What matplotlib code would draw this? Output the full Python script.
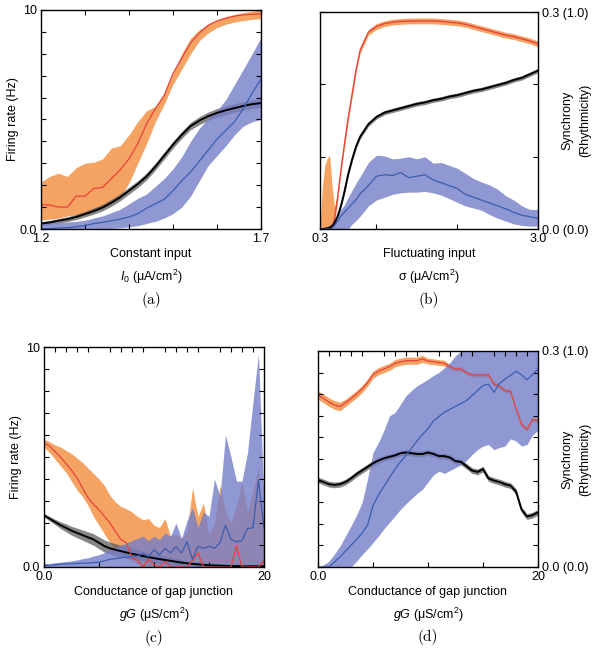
import numpy as np
import matplotlib
matplotlib.use("Agg")
import matplotlib.pyplot as plt
from matplotlib.ticker import MultipleLocator

plt.rcParams["font.family"] = ["Liberation Sans", "DejaVu Sans"]
plt.rcParams["mathtext.fontset"] = "custom"
plt.rcParams["mathtext.rm"] = "Liberation Sans"
plt.rcParams["mathtext.it"] = "Liberation Sans:italic"

# ---- panel (a): constant input ----
xa = np.round(np.arange(1.20, 1.701, 0.02), 2)
red_a = [1.1, 1.1, 1.0, 1.0, 1.5, 1.5, 1.85, 1.9, 2.3, 2.7, 3.2, 3.9, 4.8,
         5.5, 6.1, 7.1, 7.8, 8.5, 8.95, 9.3, 9.5, 9.62, 9.72, 9.78, 9.8, 9.82]
red_a_hi = [2.15, 2.4, 2.55, 2.4, 2.8, 3.0, 3.05, 3.2, 3.7, 3.8, 4.3, 4.9, 5.4,
            5.6, 6.2, 7.1, 8.0, 8.7, 9.1, 9.35, 9.55, 9.7, 9.8, 9.88, 9.95, 10.0]
red_a_lo = [0.4, 0.45, 0.5, 0.6, 0.65, 0.7, 0.8, 1.0, 1.2, 1.45, 2.1, 3.0, 3.9,
            4.9, 5.7, 6.6, 7.3, 8.0, 8.6, 8.95, 9.2, 9.35, 9.45, 9.52, 9.57, 9.6]
black_a = [0.25, 0.3, 0.38, 0.45, 0.55, 0.68, 0.82, 0.98, 1.2, 1.45, 1.75, 2.05,
           2.4, 2.85, 3.35, 3.85, 4.3, 4.7, 4.95, 5.15, 5.3, 5.42, 5.52, 5.62,
           5.7, 5.75]
black_a_err = [0.08, 0.09, 0.1, 0.11, 0.12, 0.13, 0.14, 0.15, 0.16, 0.16, 0.16,
               0.16, 0.16, 0.16, 0.16, 0.16, 0.16, 0.17, 0.18, 0.19, 0.2, 0.2,
               0.2, 0.2, 0.2, 0.2]
blue_a = [0.0, 0.02, 0.04, 0.06, 0.1, 0.15, 0.25, 0.3, 0.38, 0.45, 0.55, 0.7,
          0.95, 1.15, 1.35, 1.75, 2.2, 2.6, 3.1, 3.6, 4.1, 4.5, 4.9, 5.5, 6.2, 6.85]
blue_a_hi = [0.25, 0.27, 0.3, 0.32, 0.35, 0.4, 0.5, 0.6, 0.75, 0.9, 1.15, 1.4,
             1.6, 1.95, 2.3, 2.75, 3.3, 4.0, 4.6, 5.05, 5.4, 5.9, 6.6, 7.3, 8.0, 8.75]
blue_a_lo = [0, 0, 0, 0, 0, 0, 0, 0, 0.03, 0.06, 0.1, 0.15, 0.25, 0.35, 0.5,
             0.7, 1.0, 1.5, 2.2, 2.9, 3.35, 3.8, 4.3, 4.7, 4.9, 5.0]

# ---- panel (b): fluctuating input ----
xb = [0.3, 0.33, 0.36, 0.39, 0.42, 0.45, 0.48, 0.52, 0.56, 0.6, 0.65, 0.7,
      0.75, 0.8, 0.9, 1.0, 1.1, 1.2, 1.3, 1.4, 1.5, 1.6, 1.7, 1.8, 1.9, 2.0,
      2.1, 2.2, 2.3, 2.4, 2.5, 2.6, 2.7, 2.8, 2.9, 3.0]
red_b = [0, 0, 0, 0, 0, 0.002, 0.014, 0.045, 0.082, 0.115, 0.154, 0.188,
         0.222, 0.248, 0.272, 0.28, 0.284, 0.286, 0.287, 0.2875, 0.2877, 0.2877,
         0.2876, 0.287, 0.286, 0.285, 0.283, 0.28, 0.277, 0.274, 0.271, 0.268,
         0.266, 0.263, 0.26, 0.256]
red_b_hi = [0.0, 0.06, 0.088, 0.098, 0.102, 0.06, 0.03, 0.05, 0.087, 0.12,
            0.159, 0.193, 0.226, 0.252, 0.276, 0.284, 0.288, 0.29, 0.291, 0.2915,
            0.2917, 0.2917, 0.2916, 0.291, 0.29, 0.289, 0.287, 0.284, 0.281,
            0.278, 0.275, 0.272, 0.27, 0.267, 0.264, 0.26]
red_b_lo = [0, 0, 0, 0, 0, 0, 0.008, 0.04, 0.077, 0.11, 0.149, 0.183, 0.218,
            0.244, 0.268, 0.276, 0.28, 0.282, 0.283, 0.2835, 0.2837, 0.2837,
            0.2836, 0.283, 0.282, 0.281, 0.279, 0.276, 0.273, 0.27, 0.267,
            0.264, 0.262, 0.259, 0.256, 0.252]
black_b = [0, 0, 0.0005, 0.001, 0.002, 0.004, 0.008, 0.018, 0.032, 0.05, 0.076,
           0.097, 0.115, 0.128, 0.145, 0.155, 0.161, 0.164, 0.167, 0.17, 0.173,
           0.175, 0.178, 0.18, 0.183, 0.185, 0.188, 0.191, 0.193, 0.196, 0.199,
           0.202, 0.206, 0.209, 0.214, 0.219]
black_b_err = [0.001, 0.001, 0.001, 0.001, 0.001, 0.002, 0.002, 0.003, 0.003,
               0.003, 0.003, 0.003, 0.003, 0.003, 0.003, 0.003, 0.003, 0.003,
               0.003, 0.003, 0.003, 0.003, 0.003, 0.003, 0.003, 0.003, 0.003,
               0.003, 0.003, 0.003, 0.003, 0.003, 0.003, 0.003, 0.003, 0.003]
blue_b = [0, 0, 0, 0, 0, 0.001, 0.005, 0.011, 0.018, 0.023, 0.029, 0.035,
          0.041, 0.049, 0.06, 0.073, 0.075, 0.074, 0.078, 0.071, 0.073, 0.075,
          0.068, 0.064, 0.06, 0.056, 0.048, 0.044, 0.04, 0.036, 0.032, 0.028,
          0.023, 0.019, 0.017, 0.015]
blue_b_hi = [0, 0, 0, 0.002, 0.005, 0.009, 0.014, 0.02, 0.027, 0.033, 0.044,
             0.054, 0.064, 0.073, 0.092, 0.102, 0.101, 0.097, 0.098, 0.1, 0.097,
             0.1, 0.091, 0.092, 0.088, 0.084, 0.077, 0.07, 0.065, 0.061, 0.055,
             0.046, 0.04, 0.032, 0.027, 0.027]
blue_b_lo = [0, 0, 0, 0, 0, 0, 0, 0, 0, 0, 0, 0.007, 0.012, 0.018, 0.032, 0.04,
             0.044, 0.048, 0.05, 0.051, 0.051, 0.052, 0.05, 0.047, 0.042, 0.037,
             0.032, 0.029, 0.026, 0.02, 0.015, 0.011, 0.007, 0.005, 0.004, 0.004]

# ---- panels (c), (d): gap junction conductance ----
xg = np.arange(0, 20.5, 0.5)
red_c = [5.65, 5.5, 5.25, 5.0, 4.7, 4.4, 4.05, 3.6, 3.15, 2.85, 2.6, 2.3, 2.0,
         1.6, 1.25, 1.1, 0.45, 0.3, 0.0, 0.35, 0.1, 0.0, 0.25, 0.0, 0.0, 0.0,
         0.0, 0.3, 0.65, 0.0, 0.0, 0.0, 0.0, 0.0, 0.0, 0.95, 0.0, 0.0, 0.0, 0.0, 0.3]
red_c_hi = [5.8, 5.7, 5.55, 5.45, 5.3, 5.15, 4.95, 4.75, 4.5, 4.25, 4.0, 3.7,
            3.25, 2.95, 2.75, 2.65, 2.5, 2.3, 2.15, 2.2, 1.9, 1.8, 2.2, 1.4, 1.5,
            1.3, 1.6, 3.6, 2.3, 2.9, 1.5, 2.0, 3.7, 2.5, 2.0, 2.8, 3.9, 2.5, 3.5,
            4.5, 1.5]
red_c_lo = [5.45, 5.2, 4.9, 4.6, 4.3, 3.9, 3.5, 3.2, 2.8, 2.3, 1.9, 1.5, 1.1,
            0.8, 0.6, 0.4, 0.25, 0.15, 0, 0, 0, 0, 0, 0, 0, 0, 0, 0, 0, 0, 0, 0,
            0, 0, 0, 0, 0, 0, 0, 0, 0]
black_c = [2.35, 2.2, 2.05, 1.9, 1.78, 1.65, 1.55, 1.45, 1.35, 1.25, 1.1, 0.95,
           0.85, 0.78, 0.72, 0.66, 0.6, 0.55, 0.5, 0.45, 0.4, 0.36, 0.32, 0.28,
           0.24, 0.2, 0.17, 0.14, 0.12, 0.1, 0.08, 0.07, 0.06, 0.05, 0.04, 0.04,
           0.03, 0.03, 0.03, 0.03, 0.03]
black_c_err = [0.08, 0.1, 0.12, 0.15, 0.18, 0.2, 0.22, 0.23, 0.25, 0.26, 0.27,
               0.28, 0.28, 0.28, 0.27, 0.26, 0.25, 0.24, 0.22, 0.2, 0.19, 0.18,
               0.17, 0.16, 0.15, 0.14, 0.13, 0.12, 0.12, 0.11, 0.11, 0.1, 0.1,
               0.1, 0.1, 0.1, 0.1, 0.1, 0.1, 0.1, 0.1]
blue_c = [0.08, 0.08, 0.1, 0.12, 0.14, 0.15, 0.16, 0.17, 0.18, 0.2, 0.22, 0.28,
          0.35, 0.38, 0.42, 0.45, 0.48, 0.5, 0.62, 0.48, 0.78, 0.55, 0.85, 0.64,
          0.92, 0.64, 1.15, 0.35, 0.94, 0.85, 0.94, 0.85, 1.1, 1.9, 1.25, 1.15,
          1.2, 1.75, 1.78, 3.95, 1.8]
blue_c_hi = [0.15, 0.15, 0.2, 0.22, 0.25, 0.28, 0.32, 0.38, 0.42, 0.5, 0.56,
             0.65, 0.8, 0.9, 1.0, 1.1, 1.2, 1.3, 1.4, 1.2, 1.4, 1.25, 1.55, 1.4,
             2.0, 1.3, 2.1, 2.7, 1.8, 2.5, 2.3, 4.0, 3.2, 6.0, 5.0, 3.9, 3.9, 5.2,
             7.5, 9.7, 3.0]
blue_c_lo = [0.0] * 41

red_d = [0.239, 0.234, 0.229, 0.225, 0.223, 0.228, 0.234, 0.24, 0.247, 0.256,
         0.267, 0.272, 0.275, 0.278, 0.283, 0.285, 0.2865, 0.2865, 0.2866,
         0.289, 0.286, 0.285, 0.284, 0.283, 0.278, 0.275, 0.275, 0.27, 0.2666,
         0.2666, 0.2666, 0.2666, 0.254, 0.251, 0.2447, 0.244, 0.22, 0.198,
         0.191, 0.205, 0.203]
red_d_err = [0.006, 0.006, 0.006, 0.006, 0.006, 0.005, 0.005, 0.005, 0.005,
             0.005, 0.005, 0.005, 0.005, 0.005, 0.005, 0.005, 0.005, 0.005,
             0.005, 0.005, 0.004, 0.004, 0.004, 0.004, 0.003, 0.003, 0.003,
             0.003, 0.003, 0.003, 0.003, 0.003, 0.003, 0.003, 0.003, 0.003,
             0.003, 0.003, 0.003, 0.003, 0.003]
black_d = [0.121, 0.118, 0.115, 0.114, 0.115, 0.118, 0.123, 0.129, 0.134, 0.139,
           0.144, 0.148, 0.151, 0.153, 0.155, 0.158, 0.159, 0.158, 0.157, 0.157,
           0.159, 0.157, 0.154, 0.154, 0.152, 0.147, 0.146, 0.14, 0.134, 0.132,
           0.136, 0.123, 0.12, 0.118, 0.115, 0.113, 0.105, 0.08, 0.07, 0.072, 0.076]
black_d_err = [0.004] * 41
blue_d = [0, 0, 0, 0.007, 0.014, 0.022, 0.03, 0.038, 0.047, 0.058, 0.085, 0.1,
          0.112, 0.124, 0.136, 0.146, 0.155, 0.165, 0.175, 0.184, 0.192, 0.203,
          0.209, 0.215, 0.219, 0.223, 0.227, 0.231, 0.238, 0.245, 0.252, 0.254,
          0.2425, 0.255, 0.261, 0.266, 0.272, 0.267, 0.26, 0.267, 0.275]
blue_d_hi = [0, 0.003, 0.008, 0.018, 0.029, 0.043, 0.057, 0.072, 0.089, 0.122,
             0.159, 0.173, 0.19, 0.21, 0.2146, 0.226, 0.238, 0.245, 0.2517,
             0.256, 0.261, 0.266, 0.2703, 0.277, 0.284, 0.2935, 0.3, 0.31, 0.31,
             0.31, 0.31, 0.31, 0.31, 0.31, 0.31, 0.31, 0.31, 0.31, 0.31, 0.31, 0.31]
blue_d_lo = [0, 0, 0, 0, 0, 0, 0, 0.008, 0.017, 0.025, 0.034, 0.043, 0.053,
             0.062, 0.071, 0.08, 0.088, 0.095, 0.102, 0.108, 0.118, 0.128, 0.133,
             0.13, 0.134, 0.138, 0.142, 0.148, 0.156, 0.163, 0.168, 0.17, 0.163,
             0.166, 0.168, 0.178, 0.175, 0.168, 0.17, 0.183, 0.19]

ORANGE = "#F28C3C"
RED = "#E8423A"
BLUE_FILL = "#757EC9"
BLUE = "#3A5DB0"
GRAY = "#555555"
FS = 9


def band(ax, x, lo, hi, color, alpha):
    ax.fill_between(x, lo, hi, color=color, alpha=alpha, lw=0)


def mean_err(y, e):
    y = np.asarray(y)
    e = np.asarray(e)
    return y - e, y + e


fig = plt.figure(figsize=(6.01, 6.53), dpi=100)
ax_a = fig.add_axes([0.0682, 0.6493, 0.366, 0.3354])
ax_b = fig.add_axes([0.5324, 0.6493, 0.3627, 0.3323])
ax_c = fig.add_axes([0.0732, 0.1317, 0.366, 0.3369])
ax_d = fig.add_axes([0.5291, 0.1317, 0.366, 0.3308])

# (a)
band(ax_a, xa, red_a_lo, red_a_hi, ORANGE, 0.8)
band(ax_a, xa, *mean_err(black_a, black_a_err), GRAY, 0.7)
ax_a.plot(xa, black_a, color="black", lw=1.4)
band(ax_a, xa, blue_a_lo, blue_a_hi, BLUE_FILL, 0.8)
ax_a.plot(xa, red_a, color=RED, lw=0.9)
ax_a.plot(xa, blue_a, color=BLUE, lw=0.9)

# (b)
band(ax_b, xb, red_b_lo, red_b_hi, ORANGE, 0.8)
band(ax_b, xb, *mean_err(black_b, black_b_err), GRAY, 0.7)
band(ax_b, xb, blue_b_lo, blue_b_hi, BLUE_FILL, 0.8)
ax_b.plot(xb, red_b, color=RED, lw=1.0)
ax_b.plot(xb, black_b, color="black", lw=1.4)
ax_b.plot(xb, blue_b, color=BLUE, lw=0.9)

# (c)
band(ax_c, xg, red_c_lo, red_c_hi, ORANGE, 0.8)
band(ax_c, xg, *mean_err(black_c, black_c_err), GRAY, 0.7)
ax_c.plot(xg, black_c, color="black", lw=1.4)
band(ax_c, xg, blue_c_lo, blue_c_hi, BLUE_FILL, 0.8)
ax_c.plot(xg, red_c, color=RED, lw=0.9)
ax_c.plot(xg, blue_c, color=BLUE, lw=0.9)

# (d)
band(ax_d, xg, *mean_err(red_d, red_d_err), ORANGE, 0.8)
band(ax_d, xg, *mean_err(black_d, black_d_err), GRAY, 0.7)
band(ax_d, xg, blue_d_lo, blue_d_hi, BLUE_FILL, 0.8)
ax_d.plot(xg, red_d, color=RED, lw=0.9)
ax_d.plot(xg, black_d, color="black", lw=1.4)
ax_d.plot(xg, blue_d, color=BLUE, lw=0.9)

for ax in (ax_a, ax_b, ax_c, ax_d):
    for s in ax.spines.values():
        s.set_linewidth(1.0)
    ax.tick_params(which="both", direction="in", length=3.5, width=0.8,
                   labelsize=FS, pad=3)

# axis limits and ticks
ax_a.set_xlim(1.2, 1.7)
ax_a.set_ylim(0, 10)
ax_a.set_xticks([1.2, 1.3, 1.4, 1.5, 1.6, 1.7], ["1.2", "", "", "", "", "1.7"])
ax_a.set_yticks(range(11), ["0.0"] + [""] * 9 + ["10"])
ax_a.tick_params(top=True, right=True)

ax_b.set_xlim(0.3, 3.0)
ax_b.set_ylim(0, 0.3)
ax_b.set_xticks([0.3, 1.0, 2.0, 3.0], ["0.3", "", "", "3.0"])
ax_b.set_yticks([0, 0.1, 0.2, 0.3], ["0.0 (0.0)", "", "", "0.3 (1.0)"])
ax_b.tick_params(left=True, right=True, labelleft=False, labelright=True)

ax_c.set_xlim(0, 20)
ax_c.set_ylim(0, 10)
ax_c.set_xticks([0, 5, 10, 15, 20], ["0.0", "", "", "", "20"])
ax_c.xaxis.set_minor_locator(MultipleLocator(1))
ax_c.set_yticks(range(11), ["0.0"] + [""] * 9 + ["10"])
ax_c.tick_params(right=True)
ax_c.tick_params(which="minor", top=True, bottom=False)

ax_d.set_xlim(0, 20)
ax_d.set_ylim(0, 0.3)
ax_d.set_xticks([0, 5, 10, 15, 20], ["0.0", "", "", "", "20"])
ax_d.xaxis.set_minor_locator(MultipleLocator(1))
ax_d.set_yticks(np.linspace(0, 0.3, 11), ["0.0 (0.0)"] + [""] * 9 + ["0.3 (1.0)"])
ax_d.tick_params(left=True, right=True, labelleft=False, labelright=True)
ax_d.tick_params(which="minor", top=True, bottom=False)

# labels
labels = [
    (ax_a, "Constant input", r"$I_0$ (μA/cm$^2$)", "(a)"),
    (ax_b, "Fluctuating input", r"σ (μA/cm$^2$)", "(b)"),
    (ax_c, "Conductance of gap junction", r"$gG$ (μS/cm$^2$)", "(c)"),
    (ax_d, "Conductance of gap junction", r"$gG$ (μS/cm$^2$)", "(d)"),
]
for ax, l1, l2, cap in labels:
    ax.text(0.5, -0.115, l1, transform=ax.transAxes, ha="center", va="center",
            fontsize=FS)
    ax.text(0.5, -0.22, l2, transform=ax.transAxes, ha="center", va="center",
            fontsize=FS)
    ax.text(0.5, -0.325, cap, transform=ax.transAxes, ha="center", va="center",
            fontsize=11, family="cmr10")

for ax in (ax_a, ax_c):
    ax.text(-0.125, 0.5, "Firing rate (Hz)", transform=ax.transAxes,
            rotation=90, ha="center", va="center", fontsize=FS)
for ax in (ax_b, ax_d):
    ax.text(1.175, 0.5, "Synchrony\n(Rhythmicity)", transform=ax.transAxes,
            rotation=90, ha="center", va="center", fontsize=FS,
            linespacing=1.6)

fig.savefig("out.png", dpi=100)
